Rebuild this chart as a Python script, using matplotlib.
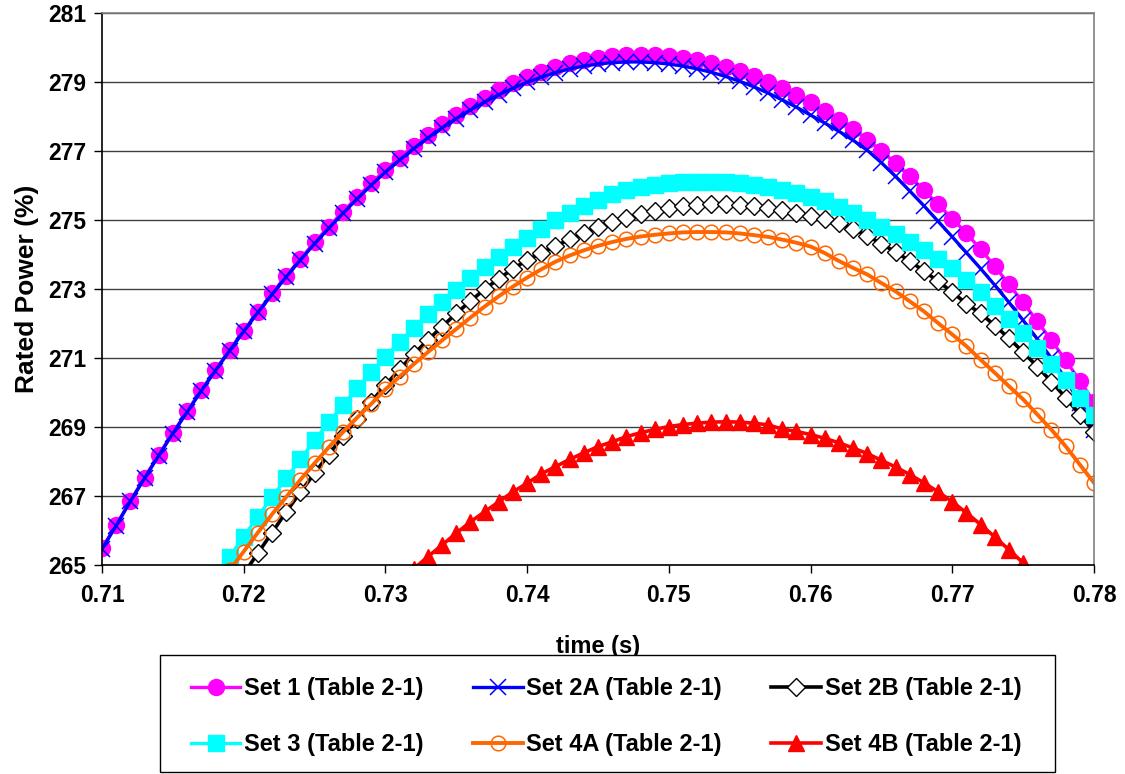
import matplotlib
matplotlib.use("Agg")
import matplotlib.pyplot as plt
from matplotlib.patches import Rectangle
import numpy as np

plt.rcParams['font.family'] = ['Liberation Sans', 'DejaVu Sans']
plt.rcParams['font.weight'] = 'bold'

# time axis (s)
t_step = 0.001

set1 = [265.49, 266.17, 266.87, 267.54, 268.20, 268.84, 269.46, 270.07, 270.66, 271.24,
        271.80, 272.35, 272.88, 273.39, 273.88, 274.36, 274.81, 275.25, 275.67, 276.08,
        276.46, 276.82, 277.16, 277.48, 277.78, 278.06, 278.31, 278.55, 278.77, 278.97,
        279.15, 279.31, 279.44, 279.55, 279.64, 279.71, 279.76, 279.79, 279.80, 279.79,
        279.76, 279.71, 279.64, 279.55, 279.44, 279.32, 279.18, 279.02, 278.84, 278.64,
        278.42, 278.18, 277.92, 277.64, 277.34, 277.01, 276.65, 276.27, 275.87, 275.46,
        275.05, 274.62, 274.16, 273.67, 273.14, 272.62, 272.07, 271.52, 270.94, 270.35,
        269.74]
set1_t0 = 0.710

set2a = [265.47, 266.15, 266.85, 267.52, 268.18, 268.82, 269.44, 270.05, 270.64, 271.22,
         271.78, 272.33, 272.85, 273.36, 273.85, 274.32, 274.77, 275.20, 275.62, 276.02,
         276.40, 276.75, 277.08, 277.39, 277.68, 277.95, 278.20, 278.43, 278.64, 278.83,
         279.00, 279.15, 279.28, 279.39, 279.47, 279.53, 279.57, 279.59, 279.59, 279.57,
         279.53, 279.47, 279.39, 279.29, 279.17, 279.03, 278.87, 278.69, 278.49, 278.28,
         278.05, 277.82, 277.58, 277.32, 277.03, 276.67, 276.27, 275.85, 275.42, 274.97,
         274.52, 274.06, 273.60, 273.12, 272.62, 272.10, 271.56, 271.00, 270.40, 269.70,
         268.93]
set2a_t0 = 0.710

set2b = [264.76, 265.35, 265.95, 266.55, 267.12, 267.67, 268.21, 268.74, 269.25, 269.74,
         270.22, 270.68, 271.12, 271.53, 271.92, 272.30, 272.66, 273.00, 273.31, 273.59,
         273.85, 274.05, 274.25, 274.45, 274.63, 274.80, 274.94, 275.08, 275.18, 275.28,
         275.35, 275.41, 275.44, 275.46, 275.46, 275.44, 275.41, 275.37, 275.30, 275.22,
         275.12, 275.05, 274.92, 274.75, 274.55, 274.32, 274.08, 273.82, 273.53, 273.23,
         272.92, 272.58, 272.30, 271.95, 271.58, 271.18, 270.76, 270.32, 269.86, 269.37,
         268.87]
set2b_t0 = 0.720

set3 = [264.75, 265.25, 265.83, 266.41, 266.98, 267.52, 268.08, 268.62, 269.15, 269.65,
        270.13, 270.60, 271.05, 271.48, 271.88, 272.27, 272.64, 272.99, 273.33, 273.65,
        273.95, 274.23, 274.50, 274.76, 275.00, 275.22, 275.42, 275.60, 275.75, 275.87,
        275.96, 276.03, 276.08, 276.11, 276.12, 276.12, 276.10, 276.07, 276.02, 275.96,
        275.88, 275.79, 275.68, 275.56, 275.40, 275.20, 275.00, 274.80, 274.60, 274.38,
        274.14, 273.89, 273.61, 273.28, 272.91, 272.52, 272.13, 271.72, 271.29, 270.83,
        270.36, 269.86, 269.36]
set3_t0 = 0.718

set4a = [264.85, 265.40, 265.95, 266.48, 266.98, 267.48, 267.96, 268.42, 268.86, 269.28,
         269.68, 270.10, 270.47, 270.83, 271.18, 271.52, 271.85, 272.18, 272.50, 272.80,
         273.08, 273.34, 273.58, 273.80, 273.98, 274.13, 274.26, 274.37, 274.46, 274.53,
         274.58, 274.62, 274.65, 274.66, 274.66, 274.65, 274.62, 274.57, 274.52, 274.44,
         274.35, 274.24, 274.05, 273.82, 273.62, 273.43, 273.18, 272.94, 272.65, 272.36,
         272.02, 271.69, 271.35, 270.96, 270.58, 270.19, 269.81, 269.37, 268.93, 268.45,
         267.92, 267.39]
set4a_t0 = 0.719

set4b = [264.90, 265.25, 265.59, 265.93, 266.26, 266.55, 266.84, 267.13, 267.38, 267.65,
         267.86, 268.07, 268.26, 268.44, 268.58, 268.73, 268.84, 268.94, 269.02, 269.08,
         269.12, 269.15, 269.16, 269.15, 269.12, 269.07, 268.95, 268.88, 268.79, 268.68,
         268.55, 268.40, 268.24, 268.04, 267.85, 267.63, 267.39, 267.13, 266.84, 266.52,
         266.18, 265.82, 265.45, 265.07, 264.65]
set4b_t0 = 0.732

labels = ["Set 1 (Table 2-1)", "Set 2A (Table 2-1)", "Set 2B (Table 2-1)",
          "Set 3 (Table 2-1)", "Set 4A (Table 2-1)", "Set 4B (Table 2-1)"]
xticks = [0.71, 0.72, 0.73, 0.74, 0.75, 0.76, 0.77, 0.78]
yticks = [265, 267, 269, 271, 273, 275, 277, 279, 281]


def times(t0, vals):
    return t0 + t_step * np.arange(len(vals))


W, H = 1125, 774
fig = plt.figure(figsize=(W / 100, H / 100), dpi=100)
ax = fig.add_axes([102 / W, 1 - 565.3 / H, (1094 - 102) / W, (565.3 - 13.3) / H])

styles = [
    dict(color='#FF00FF', marker='o', markersize=11.5, markerfacecolor='#FF00FF',
         markeredgecolor='#FF00FF', lw=2.4),
    dict(color='#0000FF', marker='x', markersize=11.5, markeredgewidth=1.1,
         markeredgecolor='#0000FF', lw=2.4),
    dict(color='#000000', marker='D', markersize=9.5, markerfacecolor='white',
         markeredgecolor='#000000', markeredgewidth=1.0, lw=2.6),
    dict(color='#00FFFF', marker='s', markersize=12, markerfacecolor='#00FFFF',
         markeredgecolor='#00FFFF', lw=2.4),
    dict(color='#FF6600', marker='o', markersize=10.5, markerfacecolor='none',
         markeredgecolor='#FF6600', markeredgewidth=1.1, lw=2.8),
    dict(color='#FF0000', marker='^', markersize=11.5, markerfacecolor='#FF0000',
         markeredgecolor='#FF0000', lw=2.6),
]
series = [(set1_t0, set1), (set2a_t0, set2a), (set2b_t0, set2b),
          (set3_t0, set3), (set4a_t0, set4a), (set4b_t0, set4b)]

handles = []
for (t0, vals), st, lab in zip(series, styles, labels):
    h, = ax.plot(times(t0, vals), vals, label=lab, **st)
    handles.append(h)

ax.set_xlim(0.71, 0.78)
ax.set_ylim(265, 281)
ax.set_xticks(xticks)
ax.set_xticklabels([f"{v:.2f}" for v in xticks])
ax.set_yticks(yticks)
ax.set_yticklabels([str(v) for v in yticks])
ax.yaxis.grid(True, color='#404040', lw=1.0)
ax.set_axisbelow(True)

for side in ['top', 'right']:
    ax.spines[side].set_color('#808080')
    ax.spines[side].set_linewidth(1.2)
for side in ['left', 'bottom']:
    ax.spines[side].set_color('#000000')
    ax.spines[side].set_linewidth(1.2)

ax.tick_params(axis='both', direction='out', length=5.5, width=1.0, labelsize=16.5)
ax.tick_params(axis='x', pad=8)
ax.tick_params(axis='y', pad=6)
for lbl in ax.get_xticklabels() + ax.get_yticklabels():
    lbl.set_fontweight('bold')

ax.set_xlabel("time (s)", fontsize=17, fontweight='bold', labelpad=20)
ax.set_ylabel("Rated Power (%)", fontsize=19, fontweight='bold', labelpad=6)

# legend frame (drawn separately so its padding can match)
fig.patches.append(Rectangle((160 / W, 1 - 772 / H), (1055 - 160) / W, (772 - 655) / H,
                             transform=fig.transFigure, facecolor='white',
                             edgecolor='#000000', lw=1.0, zorder=0))

order = [0, 3, 1, 4, 2, 5]
leg = fig.legend([handles[i] for i in order], [labels[i] for i in order],
                 loc='center', bbox_to_anchor=(606 / W, 1 - 716.5 / H),
                 ncol=3, frameon=False,
                 prop={'size': 17, 'weight': 'bold'}, handlelength=2.1,
                 handletextpad=0.15, columnspacing=2.1, labelspacing=1.4,
                 borderpad=0.3)

fig.savefig("out.png", dpi=100)
